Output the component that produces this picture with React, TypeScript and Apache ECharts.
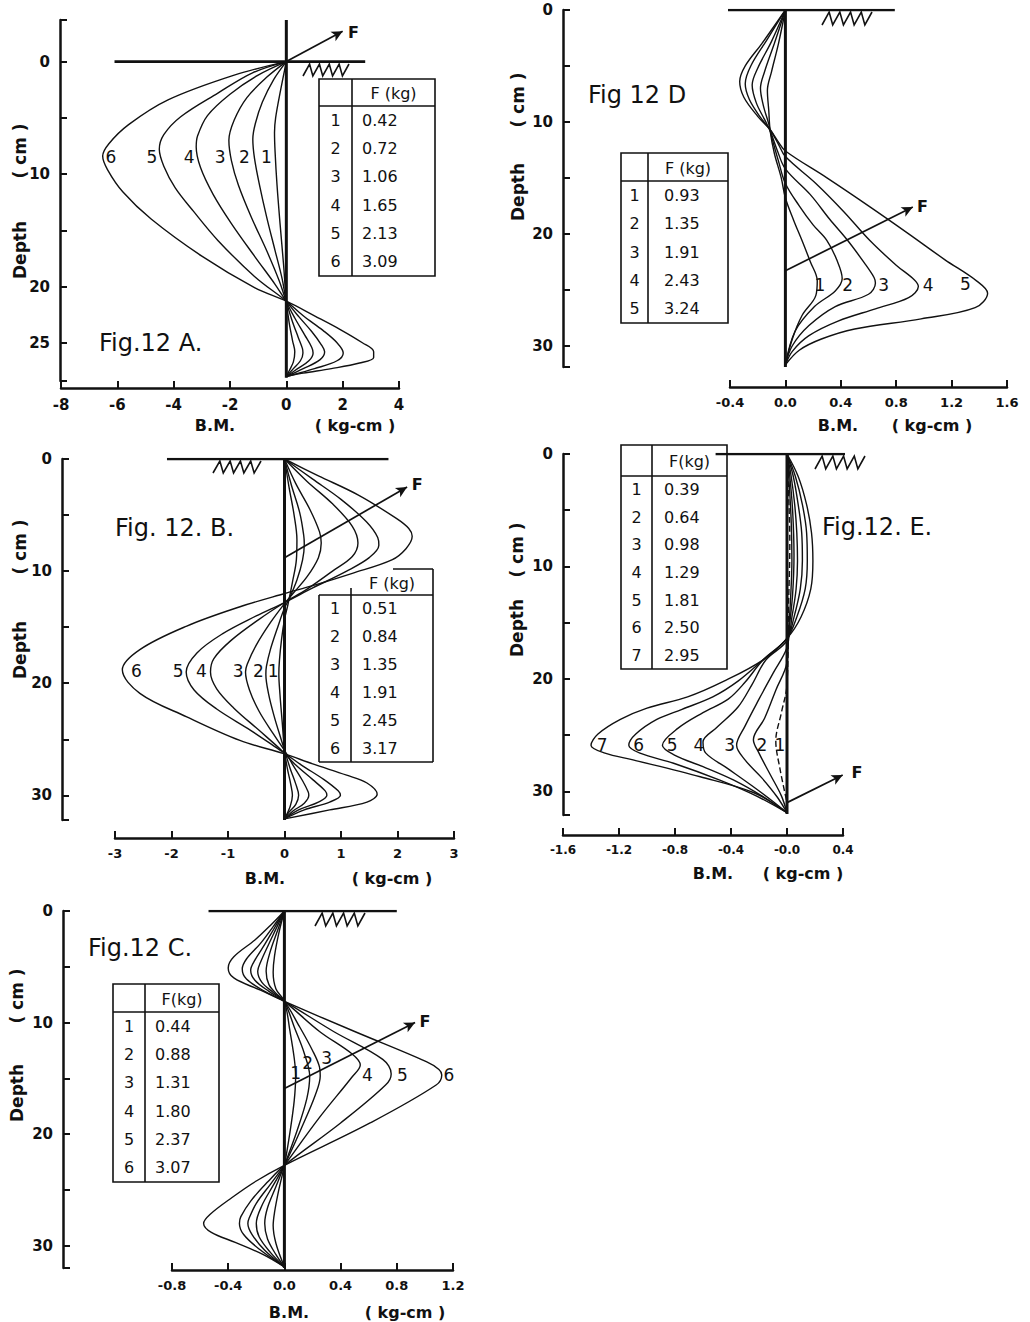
import React, { useEffect, useRef } from 'react';
import * as echarts from 'echarts';

const FONT = '"DejaVu Sans", "Liberation Sans", sans-serif';
const INK = '#111111';

// ================= DATA (bending moment [kg-cm], depth [cm]) =================
// ---- Fig 12 A ----
const A_FORCE_KG = ['0.42', '0.72', '1.06', '1.65', '2.13', '3.09'];
const A_CURVE_1 = [[0,0],[-0.2,2.5],[-0.38,5.0],[-0.42,6.3],[-0.4,8.0],[-0.33,11.0],[-0.22,14.5],[-0.1,18.0],[0,21.3],[0.1,23.2],[0.22,24.8],[0.3,25.8],[0.25,26.7],[0.12,27.4],[0,28.0]];
const A_CURVE_2 = [[0,0],[-0.45,1.6],[-0.85,3.6],[-1.1,5.5],[-1.19,6.9],[-1.13,8.6],[-0.95,11.0],[-0.7,13.8],[-0.4,16.8],[-0.15,19.3],[0,21.3],[0.2,23.0],[0.42,24.5],[0.57,25.5],[0.59,25.9],[0.5,26.6],[0.25,27.3],[0,28.0]];
const A_CURVE_3 = [[0,0],[-0.7,1.4],[-1.4,3.2],[-1.85,5.2],[-2.04,7.0],[-1.95,8.8],[-1.7,11.0],[-1.25,13.8],[-0.7,16.8],[-0.25,19.5],[0,21.3],[0.3,22.8],[0.65,24.3],[0.9,25.4],[0.95,25.9],[0.8,26.6],[0.4,27.3],[0,28.0]];
const A_CURVE_4 = [[0,0],[-1.0,1.2],[-2.0,2.9],[-2.8,4.8],[-3.15,6.6],[-3.2,7.6],[-3.05,9.4],[-2.6,11.8],[-1.95,14.4],[-1.1,17.4],[-0.4,19.8],[0,21.3],[0.45,22.7],[0.9,24.0],[1.25,25.2],[1.36,25.8],[1.2,26.5],[0.6,27.3],[0,28.0]];
const A_CURVE_5 = [[0,0],[-1.2,1.0],[-2.43,2.8],[-3.75,4.9],[-4.35,6.5],[-4.51,7.8],[-4.35,9.3],[-3.95,11.2],[-3.3,13.3],[-2.43,15.9],[-1.13,19.1],[0,21.3],[0.6,22.6],[1.3,23.9],[1.8,25.0],[2.02,25.9],[1.8,26.6],[1.0,27.3],[0.3,27.8],[0,28.0]];
const A_CURVE_6 = [[0,0],[-1.85,1.2],[-4.2,3.4],[-5.6,5.6],[-6.3,7.3],[-6.52,8.4],[-6.35,9.6],[-5.8,11.6],[-4.8,14.0],[-3.0,17.3],[-1.13,20.1],[0,21.3],[1.0,22.6],[1.9,23.8],[2.7,25.0],[3.1,25.8],[3.1,26.3],[2.6,26.8],[1.6,27.3],[0.6,27.7],[0,28.0]];
const A_CURVES = [A_CURVE_1, A_CURVE_2, A_CURVE_3, A_CURVE_4, A_CURVE_5, A_CURVE_6];
const A_CURVE_LABELS = [[-0.71,8.5,'1'],[-1.49,8.5,'2'],[-2.35,8.5,'3'],[-3.45,8.5,'4'],[-4.77,8.5,'5'],[-6.23,8.5,'6']];
const A_Y_TICKS = [-3.7, 0, 5, 10, 15, 20, 25, 28.4];
const A_Y_LABELS = [0, 10, 20, 25];
const A_PILE = [[0,-3.7],[0,28.1]];
const A_GROUND = [[-6.1,0],[2.8,0]];
const A_FORCE_LINE = [[0,0],[2.0,-2.7]];
const A_FORCE_LABEL = [[2.38,-2.6,'F']];

// ---- Fig 12 B ----
const B_FORCE_KG = ['0.51', '0.84', '1.35', '1.91', '2.45', '3.17'];
const B_CURVE_1 = [[0,0],[0.08,2.5],[0.17,5.0],[0.22,7.2],[0.21,9.0],[0.14,11.0],[0.06,13.0],[0,14.3],[-0.05,16.0],[-0.09,18.0],[-0.1,19.2],[-0.08,21.0],[-0.04,23.5],[0,26.0],[0.05,27.6],[0.11,29.0],[0.14,30.0],[0.1,31.0],[0,32.1]];
const B_CURVE_2 = [[0,0],[0.12,2.3],[0.27,4.8],[0.34,6.8],[0.35,7.6],[0.32,9.0],[0.22,10.8],[0.08,12.5],[0,13.3],[-0.12,15.0],[-0.25,17.0],[-0.32,18.5],[-0.33,19.2],[-0.28,21.0],[-0.18,23.0],[-0.06,25.0],[0.02,26.3],[0.1,27.6],[0.2,29.0],[0.25,30.0],[0.2,30.8],[0.08,31.5],[0,32.1]];
const B_CURVE_3 = [[0,0],[0.2,2.2],[0.45,4.5],[0.62,6.5],[0.65,7.5],[0.6,8.8],[0.4,10.5],[0.15,12.0],[0,12.9],[-0.25,14.6],[-0.5,16.6],[-0.66,18.3],[-0.69,19.0],[-0.62,20.6],[-0.45,22.5],[-0.2,24.5],[0,26.0],[0.15,27.3],[0.32,28.7],[0.42,29.7],[0.43,30.0],[0.35,30.7],[0.15,31.4],[0,32.1]];
const B_CURVE_4 = [[0,0],[0.4,2.0],[0.85,4.0],[1.2,6.0],[1.3,7.5],[1.2,8.7],[0.85,10.0],[0.4,11.6],[0,12.8],[-0.45,14.3],[-0.95,16.2],[-1.25,17.8],[-1.31,19.0],[-1.2,20.5],[-0.9,22.2],[-0.45,24.2],[-0.05,26.0],[0.2,27.3],[0.5,28.6],[0.72,29.6],[0.75,30.0],[0.6,30.6],[0.25,31.3],[0,32.1]];
const B_CURVE_5 = [[0,0],[0.5,1.8],[1.0,3.6],[1.45,5.6],[1.65,7.0],[1.67,7.7],[1.5,8.8],[1.1,10.0],[0.5,11.5],[0,12.8],[-0.5,14.0],[-1.1,15.6],[-1.55,17.3],[-1.74,19.0],[-1.6,20.6],[-1.2,22.3],[-0.6,24.2],[-0.1,25.9],[0.05,26.4],[0.3,27.3],[0.7,28.6],[0.95,29.6],[0.99,30.0],[0.8,30.6],[0.35,31.3],[0,32.1]];
const B_CURVE_6 = [[0,0],[0.6,1.5],[1.3,3.2],[1.98,5.3],[2.2,6.2],[2.26,6.9],[2.15,8.0],[1.9,9.0],[1.2,10.2],[0.5,11.3],[0,12.0],[-0.8,13.2],[-1.73,14.9],[-2.56,17.0],[-2.87,18.8],[-2.56,20.9],[-1.73,23.0],[-0.79,25.1],[0,26.3],[0.5,27.2],[1.1,28.2],[1.46,28.9],[1.64,29.9],[1.46,30.6],[0.8,31.3],[0,32.1]];
const B_CURVES = [B_CURVE_1, B_CURVE_2, B_CURVE_3, B_CURVE_4, B_CURVE_5, B_CURVE_6];
const B_CURVE_LABELS = [[-0.2,18.95,'1'],[-0.46,18.95,'2'],[-0.82,18.95,'3'],[-1.47,18.95,'4'],[-1.88,18.95,'5'],[-2.62,18.95,'6']];
const B_Y_TICKS = [0, 5, 10, 15, 20, 25, 30, 32.2];
const B_Y_LABELS = [0, 10, 20, 30];
const B_PILE = [[0,0],[0,32.2]];
const B_GROUND = [[-2.08,0],[1.84,0]];
const B_FORCE_LINE = [[0,8.8],[2.17,2.5]];
const B_FORCE_LABEL = [[2.35,2.3,'F']];

// ---- Fig 12 C ----
const C_FORCE_KG = ['0.44', '0.88', '1.31', '1.80', '2.37', '3.07'];
const C_CURVE_1 = [[0,0],[-0.04,2.0],[-0.07,4.0],[-0.08,5.5],[-0.06,7.0],[0,8.1],[0.04,10.8],[0.07,13.2],[0.08,14.8],[0.07,17.0],[0.04,19.8],[0,22.8],[-0.04,25.0],[-0.07,27.0],[-0.08,28.2],[-0.06,29.8],[0,31.9]];
const C_CURVE_2 = [[0,0],[-0.05,1.8],[-0.1,3.6],[-0.13,5.4],[-0.11,6.6],[-0.05,7.5],[0,8.1],[0.07,10.4],[0.14,12.7],[0.18,14.8],[0.16,16.8],[0.09,19.7],[0,22.8],[-0.06,24.7],[-0.12,26.6],[-0.14,28.0],[-0.12,29.4],[-0.06,30.8],[0,31.9]];
const C_CURVE_3 = [[0,0],[-0.06,1.6],[-0.12,3.2],[-0.17,4.6],[-0.19,5.4],[-0.16,6.4],[-0.08,7.3],[0,8.1],[0.1,10.2],[0.2,12.5],[0.25,14.0],[0.255,14.8],[0.22,16.5],[0.12,19.5],[0,22.8],[-0.08,24.6],[-0.16,26.4],[-0.2,28.0],[-0.18,29.2],[-0.1,30.6],[0,31.9]];
const C_CURVE_4 = [[0,0],[-0.07,1.5],[-0.14,3.0],[-0.21,4.4],[-0.24,5.3],[-0.21,6.2],[-0.11,7.2],[0,8.1],[0.25,10.8],[0.48,12.8],[0.54,13.8],[0.48,14.9],[0.25,18.5],[0,22.8],[-0.1,24.5],[-0.2,26.2],[-0.25,27.5],[-0.26,28.0],[-0.23,29.0],[-0.14,30.4],[0,31.9]];
const C_CURVE_5 = [[0,0],[-0.08,1.4],[-0.17,2.9],[-0.27,4.3],[-0.3,5.2],[-0.27,6.1],[-0.14,7.2],[0,8.1],[0.35,10.8],[0.7,13.3],[0.76,14.6],[0.72,15.6],[0.4,19.0],[0,22.8],[-0.12,24.3],[-0.24,26.0],[-0.31,27.4],[-0.32,28.0],[-0.29,29.0],[-0.18,30.3],[0,31.9]];
const C_CURVE_6 = [[0,0],[-0.1,1.3],[-0.21,2.6],[-0.36,4.1],[-0.4,5.1],[-0.36,6.0],[-0.17,7.1],[0,8.1],[0.5,10.8],[1.01,13.5],[1.1,14.2],[1.12,14.7],[1.08,15.6],[0.61,19.0],[0,22.8],[-0.2,24.2],[-0.375,25.7],[-0.53,27.2],[-0.575,28.0],[-0.52,28.8],[-0.35,29.7],[-0.15,30.8],[0,31.9]];
const C_CURVES = [C_CURVE_1, C_CURVE_2, C_CURVE_3, C_CURVE_4, C_CURVE_5, C_CURVE_6];
const C_CURVE_LABELS = [[0.08,14.5,'1'],[0.165,13.6,'2'],[0.3,13.2,'3'],[0.59,14.7,'4'],[0.84,14.7,'5'],[1.17,14.7,'6']];
const C_Y_TICKS = [0, 5, 10, 15, 20, 25, 30, 32.0];
const C_Y_LABELS = [0, 10, 20, 30];
const C_PILE = [[0,0],[0,32.0]];
const C_GROUND = [[-0.54,0],[0.8,0]];
const C_FORCE_LINE = [[0,15.9],[0.93,10.0]];
const C_FORCE_LABEL = [[1.0,9.9,'F']];

// ---- Fig 12 D ----
const D_FORCE_KG = ['0.93', '1.35', '1.91', '2.43', '3.24'];
const D_CURVE_1 = [[0,0],[-0.05,3.0],[-0.1,5.5],[-0.13,7.2],[-0.12,9.0],[-0.11,10.8],[-0.08,12.8],[-0.03,15.0],[0,16.8],[0.06,18.8],[0.12,20.6],[0.18,22.5],[0.23,24.2],[0.22,25.5],[0.12,27.3],[0.05,29.4],[0,31.7]];
const D_CURVE_2 = [[0,0],[-0.08,3.0],[-0.15,5.5],[-0.18,7.0],[-0.16,8.5],[-0.12,10.2],[-0.1,11.3],[-0.05,13.5],[0,15.5],[0.1,17.5],[0.2,19.2],[0.3,20.6],[0.37,22.3],[0.41,24.0],[0.36,25.1],[0.21,26.5],[0.07,28.7],[0,31.7]];
const D_CURVE_3 = [[0,0],[-0.1,2.8],[-0.2,5.2],[-0.24,6.7],[-0.21,8.3],[-0.15,9.8],[-0.11,10.8],[-0.06,12.5],[0,14.2],[0.18,16.5],[0.32,18.7],[0.45,20.6],[0.57,22.6],[0.64,23.9],[0.65,24.4],[0.6,25.4],[0.36,26.5],[0.17,28.2],[0.05,30.0],[0,31.7]];
const D_CURVE_4 = [[0,0],[-0.13,2.6],[-0.25,5.0],[-0.29,6.6],[-0.26,8.0],[-0.18,9.6],[-0.11,10.7],[-0.05,12.0],[0,13.1],[0.22,15.5],[0.42,18.0],[0.61,20.6],[0.8,22.8],[0.93,24.1],[0.96,24.7],[0.89,25.7],[0.65,26.7],[0.38,27.8],[0.17,29.1],[0.05,30.5],[0,31.7]];
const D_CURVE_5 = [[0,0],[-0.17,3.0],[-0.29,5.0],[-0.33,6.4],[-0.3,7.8],[-0.2,9.5],[-0.11,10.7],[-0.05,11.8],[0,12.6],[0.3,15.0],[0.6,17.5],[0.89,20.0],[1.15,22.3],[1.38,24.2],[1.46,25.3],[1.37,26.6],[0.98,27.6],[0.5,28.5],[0.26,29.4],[0.1,30.4],[0,31.7]];
const D_CURVES = [D_CURVE_1, D_CURVE_2, D_CURVE_3, D_CURVE_4, D_CURVE_5];
const D_CURVE_LABELS = [[0.25,24.6,'1'],[0.45,24.6,'2'],[0.71,24.6,'3'],[1.03,24.6,'4'],[1.3,24.5,'5']];
const D_Y_TICKS = [0, 5, 10, 15, 20, 25, 30, 31.9];
const D_Y_LABELS = [0, 10, 20, 30];
const D_PILE = [[0,0],[0,31.9]];
const D_GROUND = [[-0.66,0],[0.79,0]];
const D_FORCE_LINE = [[0,23.3],[0.92,17.6]];
const D_FORCE_LABEL = [[0.99,17.6,'F']];

// ---- Fig 12 E ----
const E_FORCE_KG = ['0.39', '0.64', '0.98', '1.29', '1.81', '2.50', '2.95'];
const E_CURVE_1 = [[0,0],[0.01,3.0],[0.02,8.0],[0.01,14.0],[0,20.5],[-0.04,23.0],[-0.08,25.5],[-0.05,28.0],[0,31.0]];
const E_CURVE_2 = [[0,0],[0.015,2.5],[0.03,6.0],[0.035,9.5],[0.025,13.0],[0.01,16.0],[0,18.5],[-0.08,21.0],[-0.16,23.5],[-0.24,25.4],[-0.2,26.6],[-0.12,28.5],[-0.04,30.4],[0,31.9]];
const E_CURVE_3 = [[0,0],[0.02,2.0],[0.04,5.0],[0.05,9.0],[0.04,12.5],[0.02,15.0],[0,17.2],[-0.1,19.5],[-0.2,21.8],[-0.3,24.2],[-0.36,25.9],[-0.3,27.2],[-0.18,28.8],[-0.07,30.5],[0,31.9]];
const E_CURVE_4 = [[0,0],[0.03,2.0],[0.055,4.5],[0.07,7.0],[0.075,9.5],[0.065,12.0],[0.035,14.5],[0,16.6],[-0.15,18.3],[-0.25,20.5],[-0.35,22.5],[-0.5,24.3],[-0.6,25.6],[-0.58,26.6],[-0.42,28.0],[-0.25,29.5],[-0.1,30.9],[0,31.9]];
const E_CURVE_5 = [[0,0],[0.045,2.0],[0.08,4.5],[0.105,7.0],[0.11,9.5],[0.095,12.0],[0.05,14.5],[0,16.4],[-0.17,18.3],[-0.3,20.3],[-0.42,21.8],[-0.6,23.0],[-0.78,24.4],[-0.89,25.9],[-0.8,26.8],[-0.6,27.8],[-0.38,29.0],[-0.18,30.4],[0,31.9]];
const E_CURVE_6 = [[0,0],[0.06,2.0],[0.11,4.5],[0.14,7.0],[0.145,9.5],[0.13,12.0],[0.07,14.5],[0,16.4],[-0.17,18.3],[-0.35,20.2],[-0.53,21.6],[-0.75,22.7],[-0.93,23.6],[-1.08,24.9],[-1.13,25.9],[-1.05,26.6],[-0.81,27.5],[-0.48,29.0],[-0.22,30.4],[0,31.9]];
const E_CURVE_7 = [[0,0],[0.08,2.0],[0.14,4.5],[0.175,7.0],[0.185,9.5],[0.17,12.0],[0.1,14.5],[0,16.4],[-0.17,18.3],[-0.45,20.2],[-0.71,21.6],[-1.0,22.6],[-1.19,23.6],[-1.35,24.9],[-1.4,25.9],[-1.3,26.6],[-1.1,27.2],[-0.62,28.7],[-0.24,30.1],[0,31.9]];
const E_CURVES = [E_CURVE_1, E_CURVE_2, E_CURVE_3, E_CURVE_4, E_CURVE_5, E_CURVE_6, E_CURVE_7];
const E_CURVE_LABELS = [[-0.05,25.9,'1'],[-0.18,25.9,'2'],[-0.41,25.9,'3'],[-0.63,25.9,'4'],[-0.82,25.9,'5'],[-1.06,25.9,'6'],[-1.32,25.9,'7']];
const E_Y_TICKS = [0, 5, 10, 15, 20, 25, 30, 32.1];
const E_Y_LABELS = [0, 10, 20, 30];
const E_PILE = [[0,0],[0,32.0]];
const E_GROUND = [[-0.51,0],[0.8,0]];
const E_FORCE_LINE = [[0,31.0],[0.398,28.55]];
const E_FORCE_LABEL = [[0.5,28.3,'F']];

// ================= LAYOUT =================
const intFmt = (v: number) => String(Math.round(v));
const decFmt = (v: number) => (Math.abs(v) < 1e-9 ? '0.0' : v.toFixed(1));
const decFmtNegZero = (v: number) => (Math.abs(v) < 1e-9 ? '-0.0' : v.toFixed(1));

const PANELS: any[] = [
  {
    key: 'A', grid: { left: 61, top: 20, width: 338, height: 361 },
    x: { min: -8, max: 4, interval: 2, offset: 7, fmt: intFmt, size: 15 },
    y: { min: -3.7, max: 28.4, offset: 1, ticks: A_Y_TICKS, labels: A_Y_LABELS },
    curves: A_CURVES, dashed: [], labels: A_CURVE_LABELS,
    pile: A_PILE, ground: A_GROUND, force: A_FORCE_LINE, forceLabel: A_FORCE_LABEL,
    title: { text: 'Fig.12 A.', x: 99, y: 343 },
    depth: [20, 250], cm: [20, 151], bm: [215, 425], unit: [355, 425],
    table: { l: 319, t: 79, r: 435, b: 276, div: 352, head: 106, inset: 10, header: 'F (kg)', values: A_FORCE_KG },
    hatch: { x: 303, y: 64, w: 46, h: 12 },
  },
  {
    key: 'B', grid: { left: 115, top: 459, width: 339, height: 361 },
    x: { min: -3, max: 3, interval: 1, offset: 18, fmt: intFmt, size: 13 },
    y: { min: 0, max: 32.2, offset: 53, ticks: B_Y_TICKS, labels: B_Y_LABELS },
    curves: B_CURVES, dashed: [], labels: B_CURVE_LABELS,
    pile: B_PILE, ground: B_GROUND, force: B_FORCE_LINE, forceLabel: B_FORCE_LABEL,
    title: { text: 'Fig. 12. B.', x: 115, y: 528 },
    depth: [20, 650], cm: [20, 547], bm: [265, 878], unit: [392, 878],
    table: { l: 319, t: 595, r: 433, b: 762, div: 351, head: 595, inset: 11, header: 'F (kg)', values: B_FORCE_KG, open: { top: 569, hx: 393, divTop: 588 } },
    hatch: { x: 213, y: 461, w: 48, h: 12 },
  },
  {
    key: 'C', grid: { left: 172, top: 911, width: 281, height: 357 },
    x: { min: -0.8, max: 1.2, interval: 0.4, offset: 2, fmt: decFmt, size: 13 },
    y: { min: 0, max: 32.0, offset: 109, ticks: C_Y_TICKS, labels: C_Y_LABELS },
    curves: C_CURVES, dashed: [], labels: C_CURVE_LABELS,
    pile: C_PILE, ground: C_GROUND, force: C_FORCE_LINE, forceLabel: C_FORCE_LABEL,
    title: { text: 'Fig.12 C.', x: 88, y: 948 },
    depth: [17, 1093], cm: [17, 996], bm: [289, 1312], unit: [405, 1312],
    table: { l: 113, t: 984, r: 219, b: 1182, div: 145, head: 1012, inset: 10, header: 'F(kg)', values: C_FORCE_KG },
    hatch: { x: 315, y: 913, w: 50, h: 13 },
  },
  {
    key: 'D', grid: { left: 730, top: 10, width: 277, height: 357 },
    x: { min: -0.4, max: 1.6, interval: 0.4, offset: 20, fmt: decFmt, size: 13 },
    y: { min: 0, max: 31.9, offset: 167, ticks: D_Y_TICKS, labels: D_Y_LABELS },
    curves: D_CURVES, dashed: [], labels: D_CURVE_LABELS,
    pile: D_PILE, ground: D_GROUND, force: D_FORCE_LINE, forceLabel: D_FORCE_LABEL,
    title: { text: 'Fig 12 D', x: 588, y: 95 },
    depth: [518, 192], cm: [518, 100], bm: [838, 425], unit: [932, 425],
    table: { l: 621, t: 153, r: 728, b: 323, div: 648, head: 181, inset: 16, header: 'F (kg)', values: D_FORCE_KG },
    hatch: { x: 822, y: 12, w: 50, h: 13 },
  },
  {
    key: 'E', grid: { left: 563, top: 454, width: 280, height: 361 },
    x: { min: -1.6, max: 0.4, interval: 0.4, offset: 20, fmt: decFmtNegZero, size: 12 },
    y: { min: 0, max: 32.1, offset: 0, ticks: E_Y_TICKS, labels: E_Y_LABELS },
    curves: E_CURVES, dashed: [0], labels: E_CURVE_LABELS,
    pile: E_PILE, ground: E_GROUND, force: E_FORCE_LINE, forceLabel: E_FORCE_LABEL,
    title: { text: 'Fig.12. E.', x: 822, y: 527 },
    depth: [517, 628], cm: [517, 550], bm: [713, 873], unit: [803, 873],
    table: { l: 621, t: 445, r: 727, b: 669, div: 652, head: 476, inset: 12, header: 'F(kg)', values: E_FORCE_KG },
    hatch: { x: 815, y: 456, w: 50, h: 13 },
  },
];

function textEl(text: string, x: number, y: number, font: string, align = 'center', rotation = 0): any {
  return {
    type: 'text', x, y, rotation, silent: true, z: 10,
    style: { text, fill: INK, font, textAlign: align, textVerticalAlign: 'middle' },
  };
}

function lineEl(x1: number, y1: number, x2: number, y2: number, w = 1.6): any {
  return { type: 'line', silent: true, z: 10, shape: { x1, y1, x2, y2 }, style: { stroke: INK, lineWidth: w } };
}

function tableEls(t: any): any[] {
  const els: any[] = [];
  const tf = `16px ${FONT}`;
  if (t.open) {
    els.push(lineEl(t.l, t.t, t.r, t.t));
    els.push(lineEl(t.l, t.t, t.l, t.b));
    els.push(lineEl(t.l, t.b, t.r, t.b));
    els.push(lineEl(t.r, t.open.top, t.r, t.b));
    els.push(lineEl(t.open.hx, t.open.top, t.r, t.open.top));
    els.push(lineEl(t.div, t.open.divTop, t.div, t.b));
    els.push(textEl(t.header, (t.div + t.r) / 2, (t.open.top + t.t) / 2 + 1, tf));
  } else {
    els.push({ type: 'rect', silent: true, z: 10, shape: { x: t.l, y: t.t, width: t.r - t.l, height: t.b - t.t }, style: { stroke: INK, lineWidth: 1.6, fill: 'rgba(0,0,0,0)' } });
    els.push(lineEl(t.div, t.t, t.div, t.b));
    els.push(lineEl(t.l, t.head, t.r, t.head));
    els.push(textEl(t.header, (t.div + t.r) / 2, (t.t + t.head) / 2 + 1, tf));
  }
  const n = t.values.length;
  const rowH = (t.b - t.head) / n;
  t.values.forEach((v: string, i: number) => {
    const cy = t.head + (i + 0.5) * rowH;
    els.push(textEl(String(i + 1), (t.l + t.div) / 2, cy, tf));
    els.push(textEl(v, t.div + t.inset, cy, tf, 'left'));
  });
  return els;
}

// ground-hatch glyph "/N/N/" drawn as an oblique zigzag under the ground line
function hatchEl(h: any): any {
  const rel = [[0, 1], [6, 0], [9, 1], [15, 0], [18, 1], [24, 0], [27, 1], [33, 0], [36, 1], [42, 0]];
  const pts = rel.map(([rx, ry]) => [h.x + (rx / 42) * h.w, h.y + ry * h.h]);
  return { type: 'polyline', silent: true, z: 10, shape: { points: pts }, style: { stroke: INK, lineWidth: 1.6, fill: null } };
}

function buildOption(): any {
  const grid: any[] = [];
  const xAxis: any[] = [];
  const yAxis: any[] = [];
  const series: any[] = [];

  PANELS.forEach((p, gi) => {
    grid.push({ ...p.grid, containLabel: false });
    xAxis.push({
      type: 'value', gridIndex: gi, min: p.x.min, max: p.x.max, interval: p.x.interval,
      position: 'bottom', offset: p.x.offset,
      axisLine: { show: true, onZero: false, lineStyle: { color: INK, width: 2.5 } },
      axisTick: { show: true, inside: true, length: 7, lineStyle: { color: INK, width: 2 } },
      axisLabel: { show: true, margin: 9, color: INK, fontFamily: FONT, fontWeight: 'bold', fontSize: p.x.size, formatter: p.x.fmt },
      splitLine: { show: false },
    });
    yAxis.push({
      type: 'value', gridIndex: gi, min: p.y.min, max: p.y.max, inverse: true,
      position: 'left', offset: p.y.offset,
      axisLine: { show: true, onZero: false, lineStyle: { color: INK, width: 2.5 } },
      axisTick: { show: true, inside: true, length: 7, lineStyle: { color: INK, width: 2 }, customValues: p.y.ticks },
      axisLabel: { show: true, margin: 10, color: INK, fontFamily: FONT, fontWeight: 'bold', fontSize: 15, customValues: p.y.labels, formatter: (v: number) => String(v) },
      splitLine: { show: false },
    });

    p.curves.forEach((c: number[][], ci: number) => {
      series.push({
        type: 'line', name: `${p.key}${ci + 1}`, xAxisIndex: gi, yAxisIndex: gi, data: c,
        smooth: 0.35, showSymbol: false, symbol: 'none', silent: true, z: 3,
        lineStyle: { color: INK, width: 1.4, type: p.dashed.includes(ci) ? [6, 3] : 'solid' },
      });
    });

    series.push({
      type: 'line', name: `${p.key}-pile`, xAxisIndex: gi, yAxisIndex: gi, data: p.pile,
      showSymbol: false, symbol: 'none', silent: true, z: 4,
      lineStyle: { color: INK, width: 3 },
      markLine: {
        silent: true, symbol: ['none', 'arrow'], symbolSize: [8, 11], animation: false,
        lineStyle: { color: INK, width: 1.7, type: 'solid' }, label: { show: false },
        emphasis: { disabled: true },
        data: [[{ coord: p.force[0] }, { coord: p.force[1] }]],
      },
    });
    series.push({
      type: 'line', name: `${p.key}-ground`, xAxisIndex: gi, yAxisIndex: gi, data: p.ground,
      showSymbol: false, symbol: 'none', silent: true, z: 4,
      lineStyle: { color: INK, width: 2.6 },
    });
  });

  return { animation: false, backgroundColor: '#ffffff', grid, xAxis, yAxis, series };
}

// Static annotations plus curve numbers / "F" placed through the chart's own axes scales
function buildGraphic(chart: any): any[] {
  const graphic: any[] = [];
  PANELS.forEach((p, gi) => {
    graphic.push(textEl(p.title.text, p.title.x, p.title.y, `24px ${FONT}`, 'left'));
    graphic.push(textEl('Depth', p.depth[0], p.depth[1], `bold 17px ${FONT}`, 'center', Math.PI / 2));
    graphic.push(textEl('( cm )', p.cm[0], p.cm[1], `bold 17px ${FONT}`, 'center', Math.PI / 2));
    graphic.push(textEl('B.M.', p.bm[0], p.bm[1], `bold 16px ${FONT}`));
    graphic.push(textEl('( kg-cm )', p.unit[0], p.unit[1], `bold 16px ${FONT}`));
    tableEls(p.table).forEach((e) => graphic.push(e));
    graphic.push(hatchEl(p.hatch));

    p.labels.forEach((l: any[]) => {
      const px = chart.convertToPixel({ gridIndex: gi }, [l[0], l[1]]);
      if (px) graphic.push(textEl(String(l[2]), px[0], px[1], `17px ${FONT}`));
    });
    p.forceLabel.forEach((l: any[]) => {
      const px = chart.convertToPixel({ gridIndex: gi }, [l[0], l[1]]);
      if (px) graphic.push(textEl(String(l[2]), px[0], px[1], `bold 16px ${FONT}`));
    });
  });
  return graphic;
}

export default function App() {
  const ref = useRef<HTMLDivElement>(null);
  useEffect(() => {
    if (!ref.current) return;
    const chart = echarts.init(ref.current, undefined, { renderer: 'svg' });
    chart.setOption(buildOption());
    chart.setOption({ graphic: buildGraphic(chart) });
    return () => chart.dispose();
  }, []);
  return (
    <div
      ref={ref}
      style={{ position: 'absolute', left: 0, top: 0, width: 1030, height: 1322, background: '#fff' }}
    />
  );
}
